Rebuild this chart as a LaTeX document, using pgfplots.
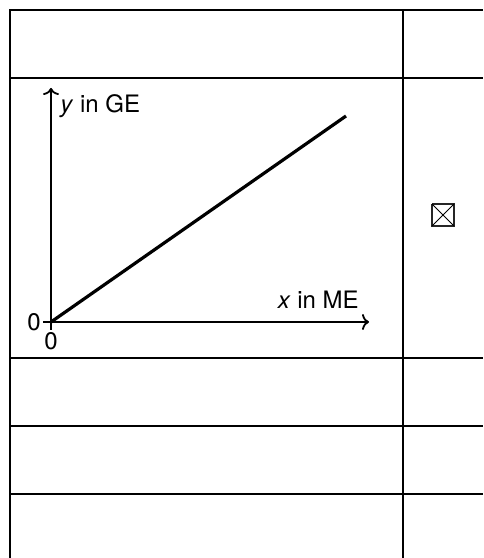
\documentclass[border=0pt]{standalone}
\usepackage{fontspec}
\setmainfont{TeX Gyre Heros}
\usepackage{pgfplots}
\pgfplotsset{compat=1.18}
\usetikzlibrary{arrows.meta}

\begin{document}
\fontsize{12}{14.4}\selectfont
\begin{tikzpicture}
% table frame, pixel units (1px = 0.5pt), y downwards
\begin{axis}[
    at={(0,0)}, anchor=south west,
    scale only axis, width=241.5pt, height=279pt,
    xmin=0, xmax=483, ymin=0, ymax=558, y dir=reverse,
    axis line style={draw=none}, ticks=none, clip=true,
]
\addplot[black, line width=1pt] coordinates {(10,558) (10,10) (483,10)};
\addplot[black, line width=1pt] coordinates {(403,10) (403,558)};
\addplot[black, line width=1pt] coordinates {(10,78) (483,78)};
\addplot[black, line width=1pt] coordinates {(10,358) (483,358)};
\addplot[black, line width=1pt] coordinates {(10,426) (483,426)};
\addplot[black, line width=1pt] coordinates {(10,494) (483,494)};
% ticked box
\addplot[black!85, line width=0.8pt] coordinates {(432,204) (454,204) (454,226) (432,226) (432,204)};
\addplot[black, line width=0.5pt] coordinates {(432,204) (454,226)};
\addplot[black, line width=0.5pt] coordinates {(454,204) (432,226)};
\end{axis}

% the small chart in the second row
\begin{axis}[
    at={(25.5pt,118pt)}, anchor=origin,
    scale only axis, width=159pt, height=117pt,
    xmin=0, xmax=318, ymin=0, ymax=234,
    axis lines=left,
    axis line style={line width=0.9pt, -{To[length=3.5pt,width=8pt]}},
    xtick={0}, ytick={0},
    tick align=outside, major tick length=4pt,
    tick style={black, line width=0.9pt},
    /pgf/number format/assume math mode=true,
    ticklabel style={font=\fontsize{12}{14.4}\selectfont, inner sep=1pt},
    clip=false,
]
\addplot[black, line width=1.6pt] coordinates {(0,0) (295,206)};
\node[anchor=base west, inner sep=0pt] at (axis cs:9,209) {\textit{y} in GE};
\node[anchor=base east, inner sep=0pt] at (axis cs:308,13) {\textit{x} in ME};
\end{axis}
\end{tikzpicture}
\end{document}
